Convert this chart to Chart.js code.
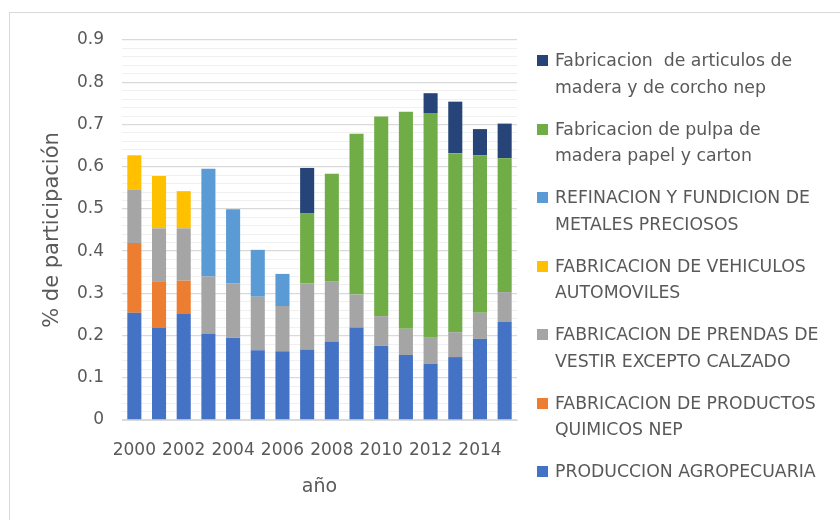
<!DOCTYPE html>
<html>
<head>
<meta charset="utf-8">
<script src="https://cdn.jsdelivr.net/npm/chart.js@4/dist/chart.umd.min.js"></script>
<style>
  html, body { margin: 0; padding: 0; background: #fff; }
  #wrap { position: relative; width: 840px; height: 520px; overflow: hidden; }
  #frame { position: absolute; left: 9px; top: 12px; right: -2px; bottom: -2px; border-left: 1px solid #d9d9d9; border-top: 1px solid #d9d9d9; }
  #chart { position: absolute; left: 0; top: 0; }
  #legend { position: absolute; left: 537px; top: 47px; font-family: 'DejaVu Sans', sans-serif; font-size: 17.3px; color: #595959; }
  .item { position: relative; height: 68.5px; padding-left: 18px; line-height: 26.7px; white-space: pre; }
  .box { position: absolute; left: 0; top: 8px; width: 11px; height: 11px; }
</style>
</head>
<body>
<div id="wrap">
  <div id="frame"></div>
  <canvas id="chart" width="840" height="520"></canvas>
  <div id="legend"></div>
</div>
<script>
// --------------------------------------------------- DATA
const years = ['2000', '2001', '2002', '2003', '2004', '2005', '2006', '2007', '2008', '2009', '2010', '2011', '2012', '2013', '2014', '2015']
const yTicks = [0, 0.1, 0.2, 0.3, 0.4, 0.5, 0.6, 0.7, 0.8, 0.9]

const agro = [0.254, 0.219, 0.252, 0.205, 0.195, 0.165, 0.163, 0.167, 0.186, 0.219, 0.176, 0.154, 0.133, 0.149, 0.192, 0.232]
const quimicos = [0.165, 0.108, 0.078, null, null, null, null, null, null, null, null, null, null, null, null, null]
const prendas = [0.126, 0.127, 0.124, 0.135, 0.129, 0.127, 0.107, 0.157, 0.143, 0.078, 0.070, 0.062, 0.062, 0.059, 0.062, 0.071]
const vehiculos = [0.082, 0.124, 0.088, null, null, null, null, null, null, null, null, null, null, null, null, null]
const metales = [null, null, null, 0.255, 0.175, 0.111, 0.076, null, null, null, null, null, null, null, null, null]
const pulpa = [null, null, null, null, null, null, null, 0.165, 0.254, 0.381, 0.473, 0.514, 0.532, 0.424, 0.373, 0.317]
const madera = [null, null, null, null, null, null, null, 0.108, null, null, null, null, 0.047, 0.122, 0.062, 0.082]

const seriesNames = [
  'PRODUCCION AGROPECUARIA',
  'FABRICACION DE PRODUCTOS\nQUIMICOS NEP',
  'FABRICACION DE PRENDAS DE\nVESTIR EXCEPTO CALZADO',
  'FABRICACION DE VEHICULOS\nAUTOMOVILES',
  'REFINACION Y FUNDICION DE\nMETALES PRECIOSOS',
  'Fabricacion de pulpa de\nmadera papel y carton',
  'Fabricacion  de articulos de\nmadera y de corcho nep'
]
const seriesValues = [agro, quimicos, prendas, vehiculos, metales, pulpa, madera]
const seriesColors = ['#4472C4', '#ED7D31', '#A5A5A5', '#FFC000', '#5B9BD5', '#70AD47', '#264478']

// --------------------------------------------------- CHART
const textColor = '#595959'
const fontFamily = "'DejaVu Sans', sans-serif"

const datasets = seriesValues.map((values, i) => ({
  label: seriesNames[i],
  data: values,
  backgroundColor: seriesColors[i],
  borderWidth: 0,
  categoryPercentage: 1,
  barPercentage: 0.57
}))

const chart = new Chart(document.getElementById('chart'), {
  type: 'bar',
  data: { labels: years, datasets: datasets },
  options: {
    responsive: false,
    animation: false,
    layout: { padding: { left: 36, top: 40, right: 323, bottom: 20 } },
    plugins: { legend: { display: false }, tooltip: { enabled: false } },
    scales: {
      x: {
        stacked: true,
        grid: { display: false },
        border: { color: '#d9d9d9', width: 1 },
        ticks: {
          color: textColor,
          font: { family: fontFamily, size: 17 },
          padding: 12,
          maxRotation: 0,
          autoSkip: false,
          callback: function (value, index) { return index % 2 === 0 ? years[index] : '' }
        },
        title: { display: true, text: 'año', color: textColor, font: { family: fontFamily, size: 19 }, padding: { top: 8, bottom: 2 } },
        afterFit: function (scale) { scale.height = 80 }
      },
      y: {
        stacked: true,
        min: 0,
        max: 0.9,
        grid: {
          drawTicks: false,
          color: function (ctx) {
            const v = Math.round(ctx.tick.value * 100)
            return v % 10 === 0 ? '#d9d9d9' : '#f0f0f0'
          },
          lineWidth: function (ctx) {
            const v = Math.round(ctx.tick.value * 100)
            return v % 10 === 0 ? 1.3 : 1
          }
        },
        border: { display: false },
        ticks: {
          stepSize: 0.02,
          color: textColor,
          font: { family: fontFamily, size: 17 },
          padding: 18,
          autoSkip: false,
          callback: function (value) {
            const v = Math.round(value * 100)
            if (v % 10 !== 0) return ''
            const t = yTicks.find(y => Math.round(y * 100) === v)
            return t === undefined ? '' : String(t)
          }
        },
        title: { display: true, text: '% de participación', color: textColor, font: { family: fontFamily, size: 21 }, padding: { top: 4, bottom: 0 } },
        afterFit: function (scale) { scale.width = 86 }
      }
    }
  }
})

// --------------------------------------------------- LEGEND (reverse order, like the original)
const legendBox = document.getElementById('legend')
chart.data.datasets.slice().reverse().forEach(ds => {
  const item = document.createElement('div')
  item.className = 'item'
  const box = document.createElement('span')
  box.className = 'box'
  box.style.background = ds.backgroundColor
  item.appendChild(box)
  item.appendChild(document.createTextNode(ds.label))
  legendBox.appendChild(item)
})
</script>
</body>
</html>
